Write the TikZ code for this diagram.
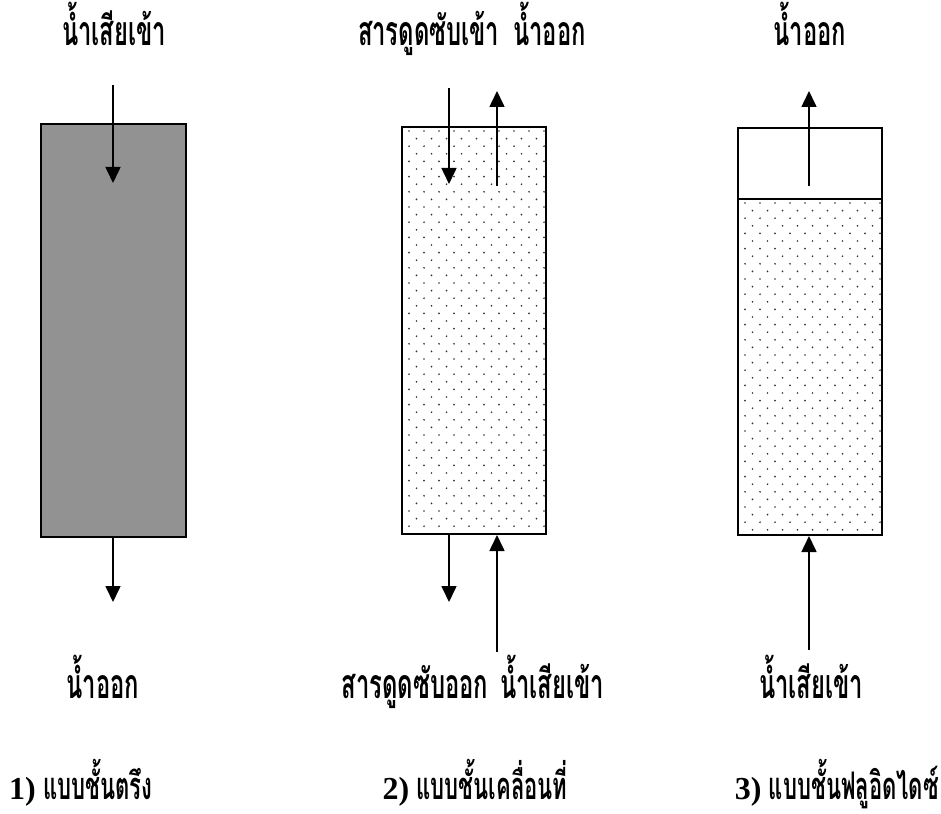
\documentclass[tikz,border=0pt]{standalone}
\usepackage{fontspec}
\newfontfamily\thai[Script=Thai,FakeStretch=0.58]{Loma}
\newfontfamily\thaicap[Script=Thai,FakeStretch=0.58]{Loma}
\newfontfamily\capnum{Liberation Serif}
\usetikzlibrary{arrows.meta}
\definecolor{fillgray}{HTML}{929292}
\definecolor{dotc}{HTML}{333333}
\newcommand{\tankdots}[4]{%
  \begin{scope}
    \clip (#1,#2) rectangle (#3,#4);
    \foreach \r in {0,...,56}{%
      \pgfmathsetmacro{\yy}{#2+4+7.6*\r}%
      \pgfmathsetmacro{\xo}{#1+7+7.5*mod(\r,2)}%
      \foreach \c in {0,...,10}{%
        \fill[dotc] (\xo+15*\c,\yy) circle (0.95pt);
      }%
    }%
  \end{scope}}
\begin{document}
\begin{tikzpicture}[x=1pt,y=-1pt,
  lbl/.style={font=\thai\bfseries\fontsize{41}{41}\selectfont, anchor=base, inner sep=0pt},
  caplbl/.style={font=\bfseries\fontsize{38}{38}\selectfont, anchor=base, inner sep=0pt},
  tank/.style={draw=black, line width=1.6pt, inner sep=0pt},
  flow/.style={line width=1.6pt, -{Triangle[length=16pt,width=15pt]}},
  flowline/.style={line width=1.6pt}]
\useasboundingbox (0,0) rectangle (941,813);
% tanks
\node[tank, fill=fillgray, minimum width=145pt, minimum height=413pt] (t1) at (113.5,330.5) {};
\tankdots{402}{127}{546}{534}
\node[tank, minimum width=144pt, minimum height=407pt] (t2) at (474,330.5) {};
\tankdots{738}{199}{882}{535}
\node[tank, minimum width=144pt, minimum height=407pt] (t3) at (810,331.5) {};
\coordinate (d3l) at (738,199); \coordinate (d3r) at (882,199);
\draw[flowline] (d3l) -- (d3r);
% coordinates
\coordinate (a1s) at (113,85);   \coordinate (a1e) at (113,183);
\coordinate (b1s) at (113,537);  \coordinate (b1e) at (113,602);
\coordinate (a2s) at (449,88);   \coordinate (a2e) at (449,184);
\coordinate (a3s) at (497,186);  \coordinate (a3e) at (497,91);
\coordinate (b2s) at (449,534);  \coordinate (b2e) at (449,602);
\coordinate (b3s) at (497,652);  \coordinate (b3e) at (497,535);
\coordinate (a4s) at (809,186);  \coordinate (a4e) at (809,91);
\coordinate (b4s) at (809,650);  \coordinate (b4e) at (809,536);
\draw[flow] (a1s) -- (a1e);
\draw[flow] (b1s) -- (b1e);
\draw[flow] (a2s) -- (a2e);
\draw[flow] (a3s) -- (a3e);
\draw[flow] (b2s) -- (b2e);
\draw[flow] (b3s) -- (b3e);
\draw[flow] (a4s) -- (a4e);
\draw[flow] (b4s) -- (b4e);
% labels
\node[lbl] (l1) at (114,46) {น้ำเสียเข้า};
\node[lbl] (l2) at (472,46) {สารดูดซับเข้า\hspace{14pt}น้ำออก};
\node[lbl] (l3) at (810,46) {น้ำออก};
\node[lbl] (l4) at (103,698) {น้ำออก};
\node[lbl] (l5) at (473,698) {สารดูดซับออก\hspace{12pt}น้ำเสียเข้า};
\node[lbl] (l6) at (811,698) {น้ำเสียเข้า};
\node[caplbl, anchor=base west] (c1) at (9,799) {\capnum\fontsize{32}{32}\selectfont 1)\thaicap\fontsize{38}{38}\selectfont\ แบบชั้นตรึง};
\node[caplbl] (c2) at (475,799) {\capnum\fontsize{32}{32}\selectfont 2)\thaicap\fontsize{38}{38}\selectfont\ แบบชั้นเคลื่อนที่};
\node[caplbl, anchor=base east] (c3) at (939,799) {\capnum\fontsize{32}{32}\selectfont 3)\thaicap\fontsize{38}{38}\selectfont\ แบบชั้นฟลูอิดไดซ์};
\end{tikzpicture}
\end{document}
